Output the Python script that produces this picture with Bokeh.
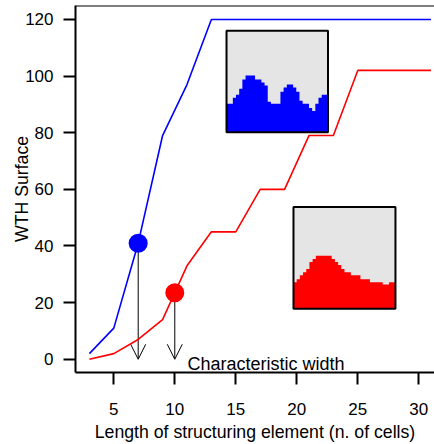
from bokeh.plotting import figure
from bokeh.models import FixedTicker, Arrow, OpenHead, Span, Label
from bokeh.embed import file_html
from bokeh.resources import INLINE

# ---- data ----
length = [3, 5, 7, 9, 11, 13, 15, 17, 19, 21, 23, 25, 27, 29, 31]
wth_blue = [2, 11, 41, 79, 97, 120, 120, 120, 120, 120, 120, 120, 120, 120, 120]
wth_red = [0, 2, 7, 14, 33, 45, 45, 60, 60, 79, 79, 102, 102, 102, 102]

char_x = [7, 10]
char_y = [41, 23.5]
char_colors = ["#0000ff", "#ff0000"]

x_ticks = [5, 10, 15, 20, 25, 30]
y_ticks = [0, 20, 40, 60, 80, 100, 120]

# inset profiles (column heights, % of panel height)
profile_blue = [28, 28, 34, 37, 43, 52, 56, 56, 56, 52, 52, 49, 46, 30, 28, 28,
                28, 40, 44, 47, 47, 44, 40, 31, 28, 28, 24, 21, 28, 34, 37, 37]
profile_red = [26, 29, 33, 36, 39, 46, 49, 52, 52, 52, 52, 52, 49, 46, 43, 39,
               36, 36, 33, 33, 33, 29, 29, 29, 26, 26, 26, 26, 24, 24, 26, 26]

FONT = "Liberation Sans"
Y_TOP = 124.92

p = figure(width=434, height=444, x_range=(1.861, 31.29), y_range=(-4.67, Y_TOP),
           output_backend="svg", toolbar_location=None,
           min_border_left=75, min_border_right=0, min_border_top=5, min_border_bottom=70)
p.grid.visible = False
p.outline_line_color = None
p.background_fill_color = "white"

for ax, ticks in ((p.xaxis[0], x_ticks), (p.yaxis[0], y_ticks)):
    ax.ticker = FixedTicker(ticks=ticks)
    ax.axis_line_width = 2
    ax.axis_line_color = "black"
    ax.major_tick_line_width = 2
    ax.major_tick_line_color = "black"
    ax.major_tick_out = 12
    ax.major_tick_in = 0
    ax.minor_tick_line_color = None
    ax.major_label_text_font = FONT
    ax.major_label_text_font_size = "17px"
    ax.major_label_text_color = "black"
    ax.axis_label_text_font = FONT
    ax.axis_label_text_font_size = "17.7px"
    ax.axis_label_text_font_style = "normal"
    ax.axis_label_text_color = "black"

p.xaxis.axis_label = "Length of structuring element (n. of cells)"
p.xaxis.major_label_standoff = 18
p.xaxis.axis_label_standoff = 4
p.yaxis.axis_label = "WTH Surface"
p.yaxis.major_label_standoff = 10
p.yaxis.axis_label_standoff = -10

p.add_layout(Span(location=Y_TOP, dimension="width", line_color="black", line_width=2))


def add_inset(prof, color, x0, x1, y0, y1):
    p.quad(left=[x0], right=[x1], bottom=[y0], top=[y1], fill_color="#e5e5e5", line_color=None)
    n = len(prof)
    w = (x1 - x0) / n
    xs, ys = [x0], [y0]
    for i, h in enumerate(prof):
        top = y0 + h / 100 * (y1 - y0)
        xs += [x0 + i * w, x0 + (i + 1) * w]
        ys += [top, top]
    xs.append(x1)
    ys.append(y0)
    p.patch(xs, ys, fill_color=color, line_color=None)
    p.quad(left=[x0], right=[x1], bottom=[y0], top=[y1], fill_color=None,
           line_color="black", line_width=2)


add_inset(profile_blue, "#0000ff", 14.24, 22.56, 80.15, 116.0)
add_inset(profile_red, "#ff0000", 19.73, 28.09, 17.8, 53.8)

p.line(length, wth_blue, line_color="#0000ff", line_width=1.6)
p.line(length, wth_red, line_color="#ff0000", line_width=1.6)

for cx, cy in zip(char_x, char_y):
    p.add_layout(Arrow(end=OpenHead(size=15, line_width=1, line_color="black"),
                       x_start=cx, y_start=cy, x_end=cx, y_end=0,
                       line_color="black", line_width=1, level="underlay"))

p.scatter(char_x, char_y, size=19, color=char_colors, line_color=None)

p.add_layout(Label(x=11.04, y=-1.5, text="Characteristic width", text_font=FONT,
                   text_font_size="18px", text_baseline="alphabetic", text_color="black"))

open("out.html", "w").write(file_html(p, INLINE))
